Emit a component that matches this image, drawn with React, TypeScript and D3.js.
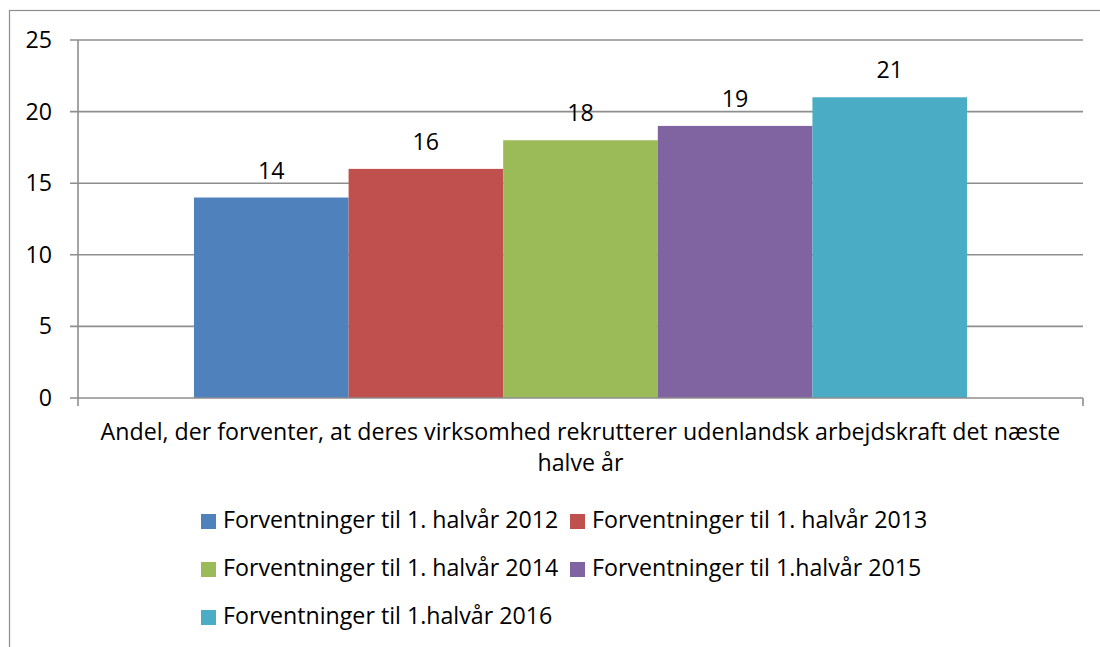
import React, { useEffect, useRef } from "react";
import * as d3 from "d3";

const categories = ["Andel, der forventer, at deres virksomhed rekrutterer udenlandsk arbejdskraft det næste halve år"];
const categoryLines = ["Andel, der forventer, at deres virksomhed rekrutterer udenlandsk arbejdskraft det næste", "halve år"];
const seriesNames = [
  "Forventninger til 1. halvår 2012",
  "Forventninger til 1. halvår 2013",
  "Forventninger til 1. halvår 2014",
  "Forventninger til 1.halvår 2015",
  "Forventninger til 1.halvår 2016",
];
const seriesValues = [14, 16, 18, 19, 21];
const seriesColors = ["#4F81BD", "#C0504D", "#9BBB59", "#8064A2", "#4BACC6"];
const yTicks = [0, 5, 10, 15, 20, 25];

const FONT = "'Open Sans', Lato, sans-serif";
const FONT_SIZE = 23.2;

const App = () => {
  const chartRef = useRef<SVGSVGElement>(null);

  useEffect(() => {
    const svg = d3.select(chartRef.current);
    svg.selectAll("*").remove();

    const width = 1100;
    const margin = { top: 40, left: 78, right: 17 };
    const plotBottom = 398;
    const gridColor = "#8E8E8E";

    // outer chart frame (right and bottom run past the picture)
    svg
      .append("rect")
      .attr("x", 9.5)
      .attr("y", 10.5)
      .attr("width", 1200)
      .attr("height", 800)
      .attr("fill", "white")
      .attr("stroke", gridColor)
      .attr("stroke-width", 1.2);

    const y = d3.scaleLinear().domain([0, 25]).range([plotBottom, margin.top]);

    const x0 = d3
      .scaleBand()
      .domain(categories)
      .range([margin.left, width - margin.right]);

    // Excel gap width 150%
    const gapWidth = 1.5;
    const band = x0.bandwidth();
    const barW = band / (seriesNames.length + gapWidth);
    const x1 = d3
      .scaleBand()
      .domain(seriesNames)
      .range([(barW * gapWidth) / 2, band - (barW * gapWidth) / 2]);

    // gridlines
    svg
      .append("g")
      .selectAll("line")
      .data(yTicks.filter((t) => t > 0))
      .join("line")
      .attr("x1", margin.left - 8)
      .attr("x2", width - margin.right)
      .attr("y1", (d) => y(d))
      .attr("y2", (d) => y(d))
      .attr("stroke", gridColor)
      .attr("stroke-width", 1.6);

    // bars
    const g = svg.append("g").attr("transform", `translate(${x0(categories[0])},0)`);
    g.selectAll("rect")
      .data(seriesNames)
      .join("rect")
      .attr("x", (d) => x1(d)!)
      .attr("y", (d, i) => y(seriesValues[i]))
      .attr("width", x1.bandwidth())
      .attr("height", (d, i) => plotBottom - y(seriesValues[i]))
      .attr("fill", (d, i) => seriesColors[i]);

    g.selectAll("text")
      .data(seriesNames)
      .join("text")
      .attr("x", (d) => x1(d)! + x1.bandwidth() / 2)
      .attr("y", (d, i) => y(seriesValues[i]) - 19)
      .attr("text-anchor", "middle")
      .attr("font-family", FONT)
      .attr("font-size", FONT_SIZE)
      .attr("fill", "#000")
      .text((d, i) => seriesValues[i]);

    // axes
    svg
      .append("line")
      .attr("x1", margin.left)
      .attr("x2", margin.left)
      .attr("y1", margin.top)
      .attr("y2", plotBottom + 8)
      .attr("stroke", gridColor)
      .attr("stroke-width", 1.6);
    svg
      .append("line")
      .attr("x1", margin.left - 8)
      .attr("x2", width - margin.right)
      .attr("y1", plotBottom)
      .attr("y2", plotBottom)
      .attr("stroke", gridColor)
      .attr("stroke-width", 1.6);
    svg
      .append("line")
      .attr("x1", width - margin.right)
      .attr("x2", width - margin.right)
      .attr("y1", plotBottom)
      .attr("y2", plotBottom + 8)
      .attr("stroke", gridColor)
      .attr("stroke-width", 1.6);

    svg
      .append("g")
      .selectAll("text")
      .data(yTicks)
      .join("text")
      .attr("x", 52)
      .attr("y", (d) => y(d) + 8)
      .attr("text-anchor", "end")
      .attr("font-family", FONT)
      .attr("font-size", FONT_SIZE)
      .text((d) => d);

    // category label
    const cx = x0(categories[0])! + band / 2;
    svg
      .append("g")
      .selectAll("text")
      .data(categoryLines)
      .join("text")
      .attr("x", cx)
      .attr("y", (d, i) => 440 + i * 31)
      .attr("text-anchor", "middle")
      .attr("font-family", FONT)
      .attr("font-size", FONT_SIZE)
      .text((d) => d);

    // legend
    const legendCols = [201, 570];
    const legend = svg
      .append("g")
      .selectAll("g")
      .data(seriesNames)
      .join("g")
      .attr(
        "transform",
        (d, i) => `translate(${legendCols[i % 2]},${514 + Math.floor(i / 2) * 48})`
      );
    legend
      .append("rect")
      .attr("width", 15)
      .attr("height", 15)
      .attr("fill", (d, i) => seriesColors[i]);
    legend
      .append("text")
      .attr("x", 22)
      .attr("y", 14)
      .attr("font-family", FONT)
      .attr("font-size", FONT_SIZE)
      .text((d) => d);
  }, []);

  return (
    <svg
      ref={chartRef}
      width={1100}
      height={647}
      style={{ position: "absolute", left: 0, top: 0 }}
    />
  );
};

export default App;
